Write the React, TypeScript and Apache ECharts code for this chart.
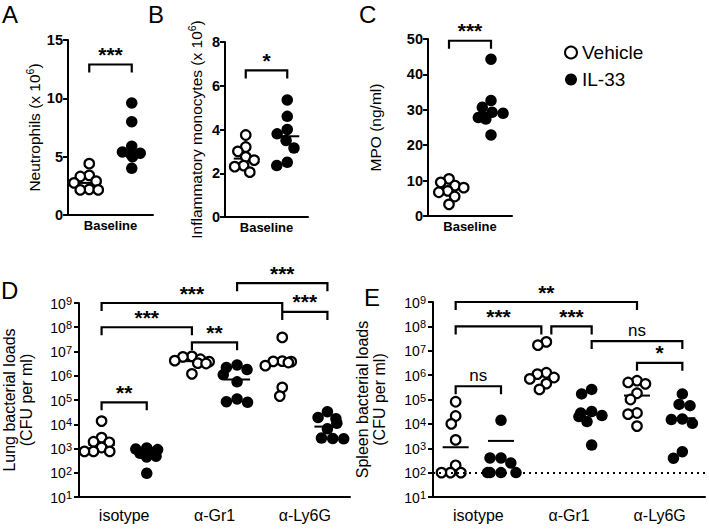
import React, { useEffect, useRef } from 'react';
import * as echarts from 'echarts';

const FONT = '"Liberation Sans", Arial, Helvetica, sans-serif';

// ---------- categories ----------
const baselineCategories = ['Baseline'];
const treatments = ['Vehicle', 'IL-33'];
const antibodyCategories = ['isotype', 'α-Gr1', 'α-Ly6G'];
const antibodySubgroups = [
  'isotype Vehicle', 'isotype IL-33',
  'α-Gr1 Vehicle', 'α-Gr1 IL-33',
  'α-Ly6G Vehicle', 'α-Ly6G IL-33',
];

// ---------- A: Neutrophils (x 10^6) ----------
const neutrophilsVehicle = [4.4, 3.4, 3.3, 2.9, 2.75, 2.2, 2.15, 2.15];
const neutrophilsIL33 = [9.6, 8.0, 5.9, 5.4, 5.3, 5.2, 5.0, 4.0];
const neutrophilsCenters = [2.75, 5.25];

// ---------- B: Inflammatory monocytes (x 10^6) ----------
const monocytesVehicle = [3.75, 3.2, 3.0, 2.75, 2.6, 2.35, 2.3, 2.05];
const monocytesIL33 = [5.35, 4.6, 4.0, 3.8, 3.5, 3.15, 2.5, 2.35];
const monocytesCenters = [2.67, 3.69];

// ---------- C: MPO (ng/ml) ----------
const mpoVehicle = [10.5, 9.5, 8.6, 8.0, 7.1, 6.7, 5.5, 3.3];
const mpoIL33 = [44.3, 32.6, 30.7, 29.3, 29.0, 27.8, 27.4, 22.9];
const mpoCenters = [7.5, 29.1];

// ---------- D: Lung bacterial loads (CFU per ml) ----------
const lungIsotypeVehicle = [13500, 2800, 1900, 1800, 1100, 760, 760, 760];
const lungIsotypeIL33 = [1050, 950, 900, 710, 630, 480, 450, 95];
const lungGr1Vehicle = [6.3e6, 6.0e6, 4.8e6, 4.2e6, 3.8e6, 3.3e6, 3.2e6, 1.2e6];
const lungGr1IL33 = [2.8e6, 2.2e6, 1.8e6, 1.1e6, 5.6e5, 1.1e5, 8.5e4, 8e4];
const lungLy6GVehicle = [3.8e7, 4.0e6, 3.9e6, 3.8e6, 3.5e6, 2.6e6, 3.3e5, 1.45e5];
const lungLy6GIL33 = [3.3e4, 1.9e4, 1.7e4, 1.1e4, 6.5e3, 2.7e3, 2.6e3, 2.5e3];
const lungCenters = [1400, 680, 4.0e6, 7.0e5, 3.6e6, 8.0e3];

// ---------- E: Spleen bacterial loads (CFU per ml) ----------
const spleenIsotypeVehicle = [8.1e4, 2.1e4, 1.0e4, 2200, 200, 100, 100, 100];
const spleenIsotypeIL33 = [1.4e4, 400, 400, 250, 100, 100, 100, 100];
const spleenGr1Vehicle = [2.3e7, 1.7e7, 1.25e6, 1.1e6, 8e5, 7e5, 4.5e5, 2.6e5];
const spleenGr1IL33 = [2.6e5, 1.7e5, 3.2e4, 2.8e4, 2.2e4, 2.0e4, 1.25e4, 1350];
const spleenLy6GVehicle = [5.9e5, 5e5, 4.4e5, 1.8e5, 1.0e5, 2.8e4, 2.5e4, 8.1e3];
const spleenLy6GIL33 = [1.7e5, 6.3e4, 5.6e4, 1.6e4, 1.5e4, 1.05e4, 720, 390];
const spleenCenters = [1100, 2000, 9e5, 2.5e4, 1.45e5, 1.7e4];
const spleenDetectionLimit = 100;

// ---------- significance brackets: [from subgroup, to subgroup, level, label] ----------
type Bracket = [number, number, number, string];
const neutrophilsBrackets: Bracket[] = [[0, 1, 12.9, '***']];
const monocytesBrackets: Bracket[] = [[0, 1, 6.7, '*']];
const mpoBrackets: Bracket[] = [[0, 1, 49.5, '***']];
const lungBrackets: Bracket[] = [
  [0, 4, 1e9, '***'],
  [0, 2, 1e8, '***'],
  [2, 3, 2.4e7, '**'],
  [0, 1, 8e4, '**'],
  [4, 5, 4.3e8, '***'],
  [3, 5, 6.6e9, '***'],
];
const spleenBrackets: Bracket[] = [
  [0, 4, 1e9, '**'],
  [0, 2, 1e8, '***'],
  [2, 3, 1e8, '***'],
  [3, 5, 2.5e7, 'ns'],
  [4, 5, 3.2e6, '*'],
  [0, 1, 3.5e5, 'ns'],
];

function logLabel(v: number) {
  const e = Math.round(Math.log10(v));
  return `{b|10}{s|${e}}`;
}

function buildOption() {
  const linRich = {
    n: { fontSize: 15.5, fontFamily: FONT, color: '#000', lineHeight: 21, verticalAlign: 'middle' },
    s: { fontSize: 10.5, fontFamily: FONT, color: '#000', lineHeight: 10, verticalAlign: 'top' },
  };
  const panels = [
    {
      grid: { left: 68, top: 40, width: 85, height: 175 },
      labels: baselineCategories, subgroups: treatments,
      veh: [[0, neutrophilsVehicle]], il: [[1, neutrophilsIL33]],
      centers: neutrophilsCenters, brackets: neutrophilsBrackets,
      y: { type: 'value', min: 0, max: 15, interval: 5 },
      name: '{n|Neutrophils (x 10}{s|6}{n|)}', nameGap: 21, log: false,
    },
    {
      grid: { left: 225, top: 42, width: 83, height: 175 },
      labels: baselineCategories, subgroups: treatments,
      veh: [[0, monocytesVehicle]], il: [[1, monocytesIL33]],
      centers: monocytesCenters, brackets: monocytesBrackets,
      y: { type: 'value', min: 0, max: 8, interval: 2 },
      name: '{n|Inflammatory monocytes (x 10}{s|6}{n|)}', nameGap: 18, log: false,
    },
    {
      grid: { left: 428, top: 39, width: 84, height: 177 },
      labels: baselineCategories, subgroups: treatments,
      veh: [[0, mpoVehicle]], il: [[1, mpoIL33]],
      centers: mpoCenters, brackets: mpoBrackets,
      y: { type: 'value', min: 0, max: 50, interval: 10 },
      name: '{n|MPO (ng/ml)}', nameGap: 42, log: false,
    },
    {
      grid: { left: 77, top: 303, width: 273, height: 194 },
      labels: antibodyCategories, subgroups: antibodySubgroups,
      veh: [[0, lungIsotypeVehicle], [2, lungGr1Vehicle], [4, lungLy6GVehicle]],
      il: [[1, lungIsotypeIL33], [3, lungGr1IL33], [5, lungLy6GIL33]],
      centers: lungCenters, brackets: lungBrackets,
      y: { type: 'log', logBase: 10, min: 10, max: 1e9, splitNumber: 8 },
      name: 'Lung bacterial loads\n(CFU per ml)', nameGap: 44, log: true,
    },
    {
      grid: { left: 433, top: 302, width: 272, height: 195 },
      labels: antibodyCategories, subgroups: antibodySubgroups,
      veh: [[0, spleenIsotypeVehicle], [2, spleenGr1Vehicle], [4, spleenLy6GVehicle]],
      il: [[1, spleenIsotypeIL33], [3, spleenGr1IL33], [5, spleenLy6GIL33]],
      centers: spleenCenters, brackets: spleenBrackets,
      y: { type: 'log', logBase: 10, min: 10, max: 1e9, splitNumber: 8 },
      name: 'Spleen bacterial loads\n(CFU per ml)', nameGap: 45, log: true,
      limit: spleenDetectionLimit,
    },
  ];

  const grid: any[] = [];
  const xAxis: any[] = [];
  const yAxis: any[] = [];
  const series: any[] = [];

  panels.forEach((p: any, i) => {
    grid.push({ ...p.grid, containLabel: false });
    xAxis.push({
      gridIndex: i, type: 'category', data: p.labels, position: 'bottom', boundaryGap: true,
      axisTick: { show: false },
      axisLine: { onZero: false, lineStyle: { color: '#000', width: 2 } },
      axisLabel: p.log
        ? { color: '#000', fontFamily: FONT, fontSize: 16, margin: 10 }
        : { color: '#000', fontFamily: FONT, fontSize: 13, fontWeight: 'bold', margin: 4 },
      splitLine: { show: false },
    });
    const hidIdx = xAxis.length;
    xAxis.push({
      gridIndex: i, type: 'category', data: p.subgroups, position: 'top', show: false,
      boundaryGap: true, jitter: 36, jitterOverlap: false, jitterMargin: -0.5,
      axisLine: { onZero: false },
    });
    yAxis.push({
      gridIndex: i, ...p.y,
      name: p.name, nameLocation: 'middle', nameRotate: 90, nameGap: p.nameGap,
      nameTextStyle: p.log
        ? { fontSize: 16, fontFamily: FONT, color: '#000', lineHeight: 17 }
        : { rich: linRich },
      axisLine: { show: true, onZero: false, lineStyle: { color: '#000', width: 2 } },
      axisTick: { show: true, length: 5, lineStyle: { color: '#000', width: 2 } },
      splitLine: { show: false },
      minorTick: { show: false },
      axisLabel: p.log
        ? {
            formatter: logLabel, margin: 7,
            rich: {
              b: { fontSize: 14, fontFamily: FONT, color: '#000', lineHeight: 15, verticalAlign: 'bottom' },
              s: { fontSize: 11, fontFamily: FONT, color: '#000', lineHeight: 10, verticalAlign: 'top' },
            },
          }
        : { color: '#000', fontFamily: FONT, fontSize: 14.5, fontWeight: 'bold', margin: 5 },
    });

    const toData = (groups: any[]) =>
      groups.flatMap(([idx, arr]: [number, number[]]) => arr.map((v) => [idx, v]));

    const vehSeries: any = {
      name: 'Vehicle', type: 'scatter', xAxisIndex: hidIdx, yAxisIndex: i, z: 3,
      symbol: 'circle', symbolSize: 9.5,
      itemStyle: { color: '#fff', borderColor: '#000', borderWidth: 2.2, opacity: 1 },
      data: toData(p.veh),
    };
    if (p.limit) {
      vehSeries.markLine = {
        silent: true, symbol: 'none', label: { show: false },
        lineStyle: { color: '#000', type: [2, 4], width: 2 },
        data: [{ yAxis: p.limit }],
      };
    }
    series.push(vehSeries);
    series.push({
      name: 'IL-33', type: 'scatter', xAxisIndex: hidIdx, yAxisIndex: i, z: 3,
      symbol: 'circle', symbolSize: 11.5,
      itemStyle: { color: '#000', opacity: 1 },
      data: toData(p.il),
    });

    // centre lines
    series.push({
      type: 'custom', xAxisIndex: hidIdx, yAxisIndex: i, z: 2, silent: true,
      data: p.centers.map((v: number, k: number) => [k, v]),
      renderItem: (_params: any, api: any) => {
        const pt = api.coord([api.value(0), api.value(1)]);
        const hw = p.log ? 13 : 12;
        return {
          type: 'line',
          shape: { x1: pt[0] - hw, y1: pt[1], x2: pt[0] + hw, y2: pt[1] },
          style: { stroke: '#000', lineWidth: 2 },
        };
      },
    });

    // brackets
    const list: Bracket[] = p.brackets;
    series.push({
      type: 'custom', xAxisIndex: hidIdx, yAxisIndex: i, z: 4, silent: true, clip: false,
      data: list.map((b) => [b[0], b[2]]),
      renderItem: (params: any, api: any) => {
        const b = list[params.dataIndex];
        const shareL = list.some((o) => o !== b && o[2] === b[2] && o[1] === b[0]);
        const shareR = list.some((o) => o !== b && o[2] === b[2] && o[0] === b[1]);
        const p1 = api.coord([b[0], b[2]]);
        const p2 = api.coord([b[1], b[2]]);
        const x1 = p1[0] + (shareL ? 5 : 0);
        const x2 = p2[0] - (shareR ? 5 : 0);
        const yy = p1[1];
        const isStar = b[3].indexOf('*') >= 0;
        return {
          type: 'group',
          children: [
            {
              type: 'polyline',
              shape: { points: [[x1, yy + 8], [x1, yy], [x2, yy], [x2, yy + 8]] },
              style: { stroke: '#000', lineWidth: 2.2, fill: null },
            },
            {
              type: 'text',
              style: {
                text: b[3], x: (x1 + x2) / 2, y: isStar ? yy - 10 : yy - 11,
                align: 'center', verticalAlign: 'middle',
                fontSize: isStar ? 21 : 17, fontWeight: isStar ? 'bold' : 'normal',
                fontFamily: FONT, fill: '#000',
              },
            },
          ],
        };
      },
    });
  });

  const letter = (text: string, left: number, top: number) => ({
    type: 'text', left, top, silent: true,
    style: { text, fontSize: 24, fontFamily: FONT, fill: '#000' },
  });

  return {
    animation: false,
    backgroundColor: '#fff',
    textStyle: { fontFamily: FONT },
    grid, xAxis, yAxis, series,
    legend: {
      data: ['Vehicle', 'IL-33'], orient: 'vertical', left: 559, top: 38,
      icon: 'circle', itemWidth: 12, itemHeight: 12, itemGap: 8, selectedMode: false,
      textStyle: { fontSize: 19, fontFamily: FONT, color: '#000' },
    },
    graphic: [
      letter('A', 2, 2),
      letter('B', 148, 2),
      letter('C', 359, 2),
      letter('D', 1, 278),
      letter('E', 364, 285),
    ],
  };
}

export default function App() {
  const ref = useRef<HTMLDivElement>(null);
  useEffect(() => {
    const chart = echarts.init(ref.current as HTMLDivElement, null, { renderer: 'svg' });
    chart.setOption(buildOption() as any);
    return () => chart.dispose();
  }, []);
  return (
    <div
      ref={ref}
      style={{ position: 'absolute', left: 0, top: 0, width: 709, height: 529, background: '#fff' }}
    />
  );
}
